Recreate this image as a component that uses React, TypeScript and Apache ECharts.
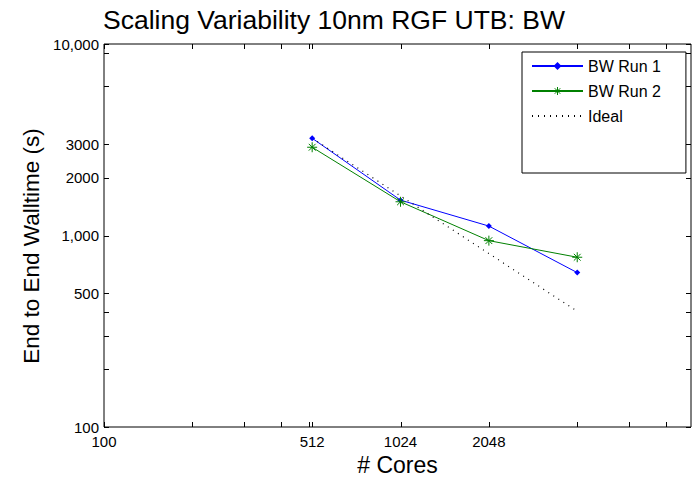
import React, { useEffect, useRef } from 'react';
import * as echarts from 'echarts';

const cores = [512, 1024, 2048, 4096];
const run1 = [3220, 1530, 1120, 640];
const run2 = [2890, 1500, 940, 770];
const ideal = [3220, 1610, 805, 402];

const xTickValues = [100, 200, 300, 400, 500, 512, 1024, 2048, 4096, 6144, 8192];
const xTickLabels = ['100', '', '', '', '', '512', '1024', '2048', '', '', ''];
const yTickValues = [100, 200, 300, 400, 500, 1000, 2000, 3000, 6000, 9000, 10000];
const yTickLabels = ['100', '', '', '', '500', '1,000', '2000', '3000', '', '', '10,000'];

const X_MIN = 100;
const X_MAX = 10000;
const Y_MIN = 100;
const Y_MAX = 10000;

const FONT = '"Liberation Sans", Arial, Helvetica, sans-serif';
const ASTERISK = 'path://M5,0L5,10M0,5L10,5M1.6,1.6L8.4,8.4M8.4,1.6L1.6,8.4';

export default function App() {
  const ref = useRef<HTMLDivElement>(null);

  useEffect(() => {
    if (!ref.current) return;
    const chart = echarts.init(ref.current, undefined, { renderer: 'svg' });

    const tickLine = (x1: number, y1: number, x2: number, y2: number) => ({
      type: 'line',
      shape: { x1, y1, x2, y2 },
      style: { stroke: '#000', lineWidth: 1 },
    });

    const option: any = {
      animation: false,
      backgroundColor: '#fff',
      title: {
        text: 'Scaling Variability 10nm RGF UTB: BW',
        left: 98,
        top: 1,
        textStyle: { fontSize: 26.5, fontWeight: 'normal', color: '#000', fontFamily: FONT },
      },
      graphic: [
        {
          type: 'text',
          x: 31,
          y: 246,
          rotation: Math.PI / 2,
          style: {
            text: 'End to End Walltime (s)',
            fill: '#000',
            fontSize: 22.5,
            fontFamily: FONT,
            align: 'center',
            verticalAlign: 'middle',
          },
        },
      ],
      grid: {
        left: 104,
        right: 1,
        top: 44,
        bottom: 50,
        show: true,
        borderColor: '#000',
        borderWidth: 1,
        backgroundColor: '#fff',
        outerBoundsMode: 'none',
        containLabel: false,
      },
      legend: {
        data: [
          { name: 'BW Run 1' },
          { name: 'BW Run 2', itemStyle: { color: 'rgba(0,0,0,0)', borderColor: '#008000', borderWidth: 1 } },
          { name: 'Ideal' },
        ],
        orient: 'vertical',
        left: 522,
        top: 52,
        itemWidth: 51,
        itemHeight: 10,
        itemGap: 9,
        padding: [6, 25, 49, 9],
        borderColor: '#000',
        borderWidth: 1,
        backgroundColor: '#fff',
        selectedMode: false,
        textStyle: { fontSize: 16, color: '#000', fontFamily: FONT },
      },
      xAxis: {
        type: 'log',
        logBase: 10,
        min: X_MIN,
        max: X_MAX,
        name: '# Cores',
        nameLocation: 'middle',
        nameGap: 28,
        nameTextStyle: { fontSize: 23, lineHeight: 20, color: '#000', fontFamily: FONT },
        axisLine: { show: false },
        axisTick: { show: false },
        axisLabel: { show: false },
        splitLine: { show: false },
      },
      yAxis: {
        type: 'log',
        logBase: 10,
        min: Y_MIN,
        max: Y_MAX,
        axisLine: { show: false },
        axisTick: { show: false },
        axisLabel: { show: false },
        splitLine: { show: false },
      },
      series: [
        {
          name: 'BW Run 1',
          type: 'line',
          data: cores.map((c, i) => [c, run1[i]]),
          symbol: 'diamond',
          symbolSize: 6,
          lineStyle: { color: '#0000ff', width: 1 },
          itemStyle: { color: '#0000ff' },
          silent: true,
        },
        {
          name: 'BW Run 2',
          type: 'line',
          data: cores.map((c, i) => [c, run2[i]]),
          symbol: ASTERISK,
          symbolSize: 10,
          lineStyle: { color: '#008000', width: 1 },
          itemStyle: { color: '#008000', borderColor: '#008000', borderWidth: 1 },
          silent: true,
        },
        {
          name: 'Ideal',
          type: 'line',
          data: cores.map((c, i) => [c, ideal[i]]),
          symbol: 'none',
          lineStyle: { color: '#000', width: 1.2, type: [1, 5] },
          itemStyle: { color: 'rgba(0,0,0,0)', opacity: 0 },
          silent: true,
        },
        {
          name: 'xticks',
          type: 'custom',
          silent: true,
          clip: false,
          data: xTickValues.map((v) => [v, Y_MIN]),
          renderItem: (params: any, api: any) => {
            const v = api.value(0);
            const b = api.coord([v, Y_MIN]);
            const t = api.coord([v, Y_MAX]);
            const x = Math.round(b[0]) + 0.5;
            const children: any[] = [tickLine(x, b[1], x, b[1] - 5), tickLine(x, t[1], x, t[1] + 5)];
            const label = xTickLabels[params.dataIndex];
            if (label) {
              children.push({
                type: 'text',
                x: b[0],
                y: b[1] + 14,
                style: {
                  text: label,
                  fill: '#000',
                  fontSize: 15,
                  lineHeight: 15,
                  fontFamily: FONT,
                  align: 'center',
                  verticalAlign: 'middle',
                },
              });
            }
            return { type: 'group', children };
          },
        },
        {
          name: 'yticks',
          type: 'custom',
          silent: true,
          clip: false,
          data: yTickValues.map((v) => [X_MIN, v]),
          renderItem: (params: any, api: any) => {
            const v = api.value(1);
            const l = api.coord([X_MIN, v]);
            const r = api.coord([X_MAX, v]);
            const y = Math.round(l[1]) + 0.5;
            const children: any[] = [tickLine(l[0], y, l[0] + 5, y), tickLine(r[0], y, r[0] - 5, y)];
            const label = yTickLabels[params.dataIndex];
            if (label) {
              children.push({
                type: 'text',
                x: l[0] - 5,
                y: l[1],
                style: { text: label, fill: '#000', fontSize: 15, fontFamily: FONT, align: 'right', verticalAlign: 'middle' },
              });
            }
            return { type: 'group', children };
          },
        },
      ],
    };

    chart.setOption(option);
    return () => chart.dispose();
  }, []);

  return <div ref={ref} style={{ position: 'absolute', left: 0, top: 0, width: 692, height: 477 }} />;
}
